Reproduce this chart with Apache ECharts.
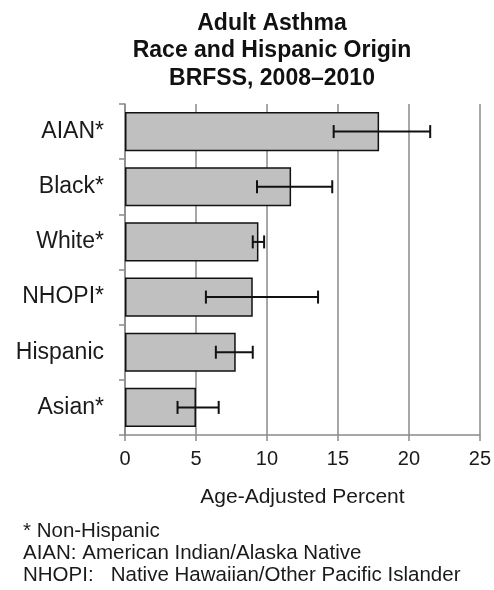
<!DOCTYPE html>
<html>
<head>
<meta charset="utf-8">
<style>
  html, body { margin: 0; padding: 0; background: #ffffff; }
  #chart { width: 494px; height: 590px; }
</style>
<script src="https://cdn.jsdelivr.net/npm/echarts@6/dist/echarts.min.js"></script>
</head>
<body>
<div id="chart"></div>
<script>
// Adult asthma prevalence by race and Hispanic origin, BRFSS 2008-2010
const titleLines = ['Adult Asthma', 'Race and Hispanic Origin', 'BRFSS, 2008\u20132010'];
const categories = ['AIAN*', 'Black*', 'White*', 'NHOPI*', 'Hispanic', 'Asian*'];
const percent = [17.9, 11.7, 9.4, 9.0, 7.8, 5.0];
const ciLow = [14.7, 9.3, 9.0, 5.7, 6.4, 3.7];
const ciHigh = [21.5, 14.6, 9.8, 13.6, 9.0, 6.6];
const xTicks = [0, 5, 10, 15, 20, 25];
const xAxisName = 'Age-Adjusted Percent';
const footnotes = [
  '* Non-Hispanic',
  'AIAN: American Indian/Alaska Native',
  'NHOPI:   Native Hawaiian/Other Pacific Islander'
];

const FONT = '"Liberation Sans", Arial, sans-serif';
const TEXT = '#1a1a1a';
const GRAY = '#8a8a8a';

const chart = echarts.init(document.getElementById('chart'), null, { renderer: 'canvas' });

const errorData = categories.map((c, i) => [i, ciLow[i], ciHigh[i]]);

const graphics = [];
titleLines.forEach((t, i) => {
  graphics.push({
    type: 'text',
    x: 272, y: 23.5 + i * 27.5,
    style: {
      text: t, fill: '#111', font: 'bold 23px ' + FONT,
      textAlign: 'center', textVerticalAlign: 'middle'
    }
  });
});
footnotes.forEach((t, i) => {
  graphics.push({
    type: 'text',
    x: 23, y: 531 + i * 22,
    style: {
      text: t, fill: TEXT, font: '20.5px ' + FONT,
      textAlign: 'left', textVerticalAlign: 'middle'
    }
  });
});

chart.setOption({
  animation: false,
  backgroundColor: '#ffffff',
  grid: { left: 125, right: 12.5, top: 104, bottom: 155, containLabel: false },
  xAxis: {
    type: 'value',
    min: xTicks[0],
    max: xTicks[xTicks.length - 1],
    interval: xTicks[1] - xTicks[0],
    name: xAxisName,
    nameLocation: 'middle',
    nameGap: 52,
    nameTextStyle: { fontFamily: FONT, fontSize: 21, color: TEXT },
    axisLine: { show: true, lineStyle: { color: GRAY, width: 1.5 } },
    axisTick: { show: true, length: 6, lineStyle: { color: GRAY, width: 1.5 } },
    axisLabel: { margin: 14, fontFamily: FONT, fontSize: 20, color: TEXT },
    splitLine: { show: true, lineStyle: { color: GRAY, width: 1.5 } }
  },
  yAxis: {
    type: 'category',
    data: categories,
    inverse: true,
    axisLine: { show: true, lineStyle: { color: GRAY, width: 1.5 } },
    axisTick: { show: true, length: 6, inside: false, lineStyle: { color: GRAY, width: 1.5 } },
    axisLabel: { margin: 21, fontFamily: FONT, fontSize: 23, color: TEXT },
    splitLine: { show: false }
  },
  series: [
    {
      type: 'bar',
      data: percent,
      barCategoryGap: '29%',
      itemStyle: { color: '#c0c0c0', borderColor: '#111', borderWidth: 1.5 },
      z: 2
    },
    {
      type: 'custom',
      data: errorData,
      z: 3,
      renderItem: function (params, api) {
        const idx = api.value(0);
        const lo = api.coord([api.value(1), idx]);
        const hi = api.coord([api.value(2), idx]);
        const cap = 6.5;
        const style = { stroke: '#111', lineWidth: 2, fill: null };
        return {
          type: 'group',
          children: [
            { type: 'line', shape: { x1: lo[0], y1: lo[1], x2: hi[0], y2: hi[1] }, style: style },
            { type: 'line', shape: { x1: lo[0], y1: lo[1] - cap, x2: lo[0], y2: lo[1] + cap }, style: style },
            { type: 'line', shape: { x1: hi[0], y1: hi[1] - cap, x2: hi[0], y2: hi[1] + cap }, style: style }
          ]
        };
      },
      encode: { x: [1, 2], y: 0 }
    }
  ],
  graphic: graphics
});
</script>
</body>
</html>
